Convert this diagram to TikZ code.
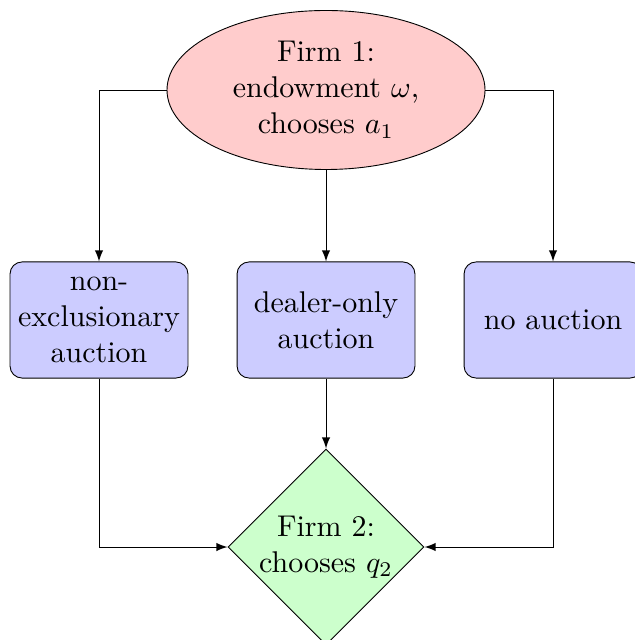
\documentclass[tikz,border=0pt]{standalone}
\usetikzlibrary{shapes.geometric,arrows}
\begin{document}
\begin{tikzpicture}[x=0.33333pt,y=-0.33333pt,line width=0.3pt,
  startnode/.style={ellipse,draw,fill=red!20,minimum width=106pt,minimum height=53pt,inner sep=0pt,align=center},
  boxnode/.style={rectangle,rounded corners=4pt,draw,fill=blue!20,minimum width=59.3pt,minimum height=38.7pt,inner sep=0pt,text width=57pt,align=center},
  decnode/.style={diamond,draw,fill=green!20,minimum width=64pt,minimum height=65pt,inner sep=0pt,align=center},
  conn/.style={draw,-latex}]
\useasboundingbox (0,0) rectangle (634,640);
\node[startnode] (f1) at (326,90) {Firm 1:\\endowment $\omega$,\\chooses $a_1$};
\node[boxnode] (b1) at (99,320) {non-\\exclusionary\\auction};
\node[boxnode] (b2) at (326,320) {dealer-only\\auction};
\node[boxnode] (b3) at (553,320) {no auction};
\node[decnode] (f2) at (326,547) {Firm 2:\\chooses $q_2$};
\draw[conn] (f1.west) -| (b1.north);
\draw[conn] (f1.south) -- (b2.north);
\draw[conn] (f1.east) -| (b3.north);
\draw[conn] (b1.south) |- (f2.west);
\draw[conn] (b2.south) -- (f2.north);
\draw[conn] (b3.south) |- (f2.east);
\end{tikzpicture}
\end{document}
